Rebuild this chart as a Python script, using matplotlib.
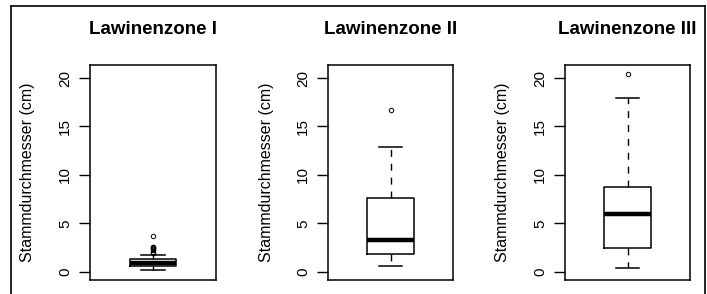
import matplotlib
matplotlib.use("Agg")
import matplotlib.pyplot as plt
from matplotlib.lines import Line2D

plt.rcParams["font.family"] = ["Liberation Sans", "DejaVu Sans"]

# box statistics (cm)
zones = ["Lawinenzone I", "Lawinenzone II", "Lawinenzone III"]
whislo = [0.2, 0.6, 0.38]
q1 = [0.6, 1.8, 2.5]
med = [0.95, 3.3, 6.0]
q3 = [1.35, 7.65, 8.8]
whishi = [1.76, 12.85, 17.9]
fliers = [
    [1.95, 2.05, 2.2, 2.35, 2.45, 2.55, 2.6, 3.7],
    [16.7],
    [20.45],
]
yticks = [0, 5, 10, 15, 20]

W, H = 707, 294
fig = plt.figure(figsize=(W / 100, H / 100), dpi=100)

# panel frames in pixels (left, width), shared top/bottom
lefts = [90, 328, 565]
widths = [126, 125, 125]
top, bottom = 65, 280

for i, name in enumerate(zones):
    ax = fig.add_axes([lefts[i] / W, (H - bottom) / H, widths[i] / W, (bottom - top) / H])
    stats = [{
        "whislo": whislo[i], "q1": q1[i], "med": med[i], "q3": q3[i],
        "whishi": whishi[i], "fliers": fliers[i],
    }]
    ax.bxp(stats, positions=[1], widths=0.4, showfliers=True,
           boxprops=dict(color="black", linewidth=1.1),
           medianprops=dict(color="black", linewidth=3.2, solid_capstyle="butt"),
           whiskerprops=dict(color="black", linewidth=1.0, linestyle=(0, (5, 5))),
           capprops=dict(color="black", linewidth=1.1),
           flierprops=dict(marker="o", markersize=3.2, markerfacecolor="none",
                           markeredgecolor="black", markeredgewidth=0.7))
    ax.set_xlim(0.46, 1.54)
    ax.set_ylim(-0.85, 21.35)
    ax.set_xticks([])
    ax.set_yticks(yticks)
    ax.set_yticklabels([str(t) for t in yticks], rotation=90, va="center", fontsize=11)
    ax.tick_params(axis="y", length=8, width=1.0, pad=5)
    for s in ax.spines.values():
        s.set_linewidth(1.1)
        s.set_color("black")
    # y label centred 62 px left of the frame
    ax.text(-62 / widths[i], 0.5, "Stammdurchmesser (cm)", transform=ax.transAxes,
            rotation=90, ha="center", va="center", fontsize=11.5)
    ax.text(0.5, 1 + (top - 29) / (bottom - top), name, transform=ax.transAxes,
            ha="center", va="center", fontsize=13.5, fontweight="bold")

# outer frame of the original screenshot
fig.add_artist(Line2D([10.5 / W, 10.5 / W], [0, (H - 6) / H], color="black", lw=1.2))
fig.add_artist(Line2D([10.5 / W, 704.5 / W], [(H - 6) / H, (H - 6) / H], color="black", lw=1.2))
fig.add_artist(Line2D([704.5 / W, 704.5 / W], [0, (H - 6) / H], color="black", lw=1.2))

fig.savefig("out.png", dpi=100)
